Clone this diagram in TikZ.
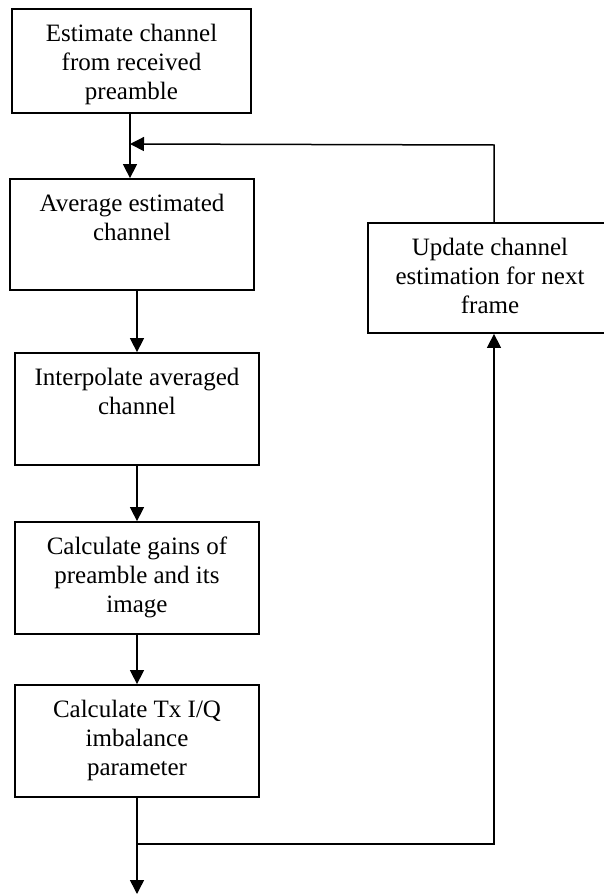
\documentclass[tikz,border=0pt]{standalone}
\usepackage{fontspec}
\setmainfont{Liberation Serif}
\usetikzlibrary{arrows.meta,positioning}

\begin{document}
\begin{tikzpicture}[x=1pt, y=-1pt]
 \tikzset{
block/.style = {rectangle, draw=black, line width=1.8pt, minimum width=244pt, minimum height=112pt, inner sep=0pt},
txt/.style = {anchor=north, yshift=-16pt, align=center, inner sep=0pt, font=\fontsize{25}{29}\selectfont},
flow/.style = {line width=1.5pt, -{Triangle[length=14pt,width=14pt]}}}

\useasboundingbox (0,0) rectangle (604,894);

      \node [block, minimum width=239pt, minimum height=104pt] (B1) at (131.5,61) {};
      \node [block, minimum height=111pt] (B2) at (132,234.5) {};
      \node [block] (B3) at (137,409) {};
      \node [block] (B4) at (137,578) {};
      \node [block] (B5) at (137,741) {};
      \node [block, minimum height=110pt] (B6) at (490,278) {};

      \node [txt] (T1) at (B1.north) {Estimate channel\\from received\\preamble};
      \node [txt] (T2) at (B2.north) {Average estimated\\channel};
      \node [txt] (T3) at (B3.north) {Interpolate averaged\\channel};
      \node [txt] (T4) at (B4.north) {Calculate gains of\\preamble and its\\image};
      \node [txt] (T5) at (B5.north) {Calculate Tx I/Q\\imbalance\\parameter};
      \node [txt] (T6) at (B6.north) {Update channel\\estimation for next\\frame};

      \coordinate (P1) at (130,144);
      \coordinate (P2) at (494,145);
      \coordinate (P3) at (137,844);
      \coordinate (P4) at (494,844);
      \coordinate (P5) at (137,894);

      \draw [flow] (B1.south -| P1) -- (B2.north -| P1);
      \draw [flow] (P2 |- B6.north) -- (P2) -- (P1);
      \draw [flow] (B2.south -| B3.north) -- (B3.north);
      \draw [flow] (B3.south) -- (B4.north);
      \draw [flow] (B4.south) -- (B5.north);
      \draw [flow] (B5.south) -- (P5);
      \draw [flow] (P3) -- (P4) -- (P4 |- B6.south);

  \end{tikzpicture}
\end{document}
